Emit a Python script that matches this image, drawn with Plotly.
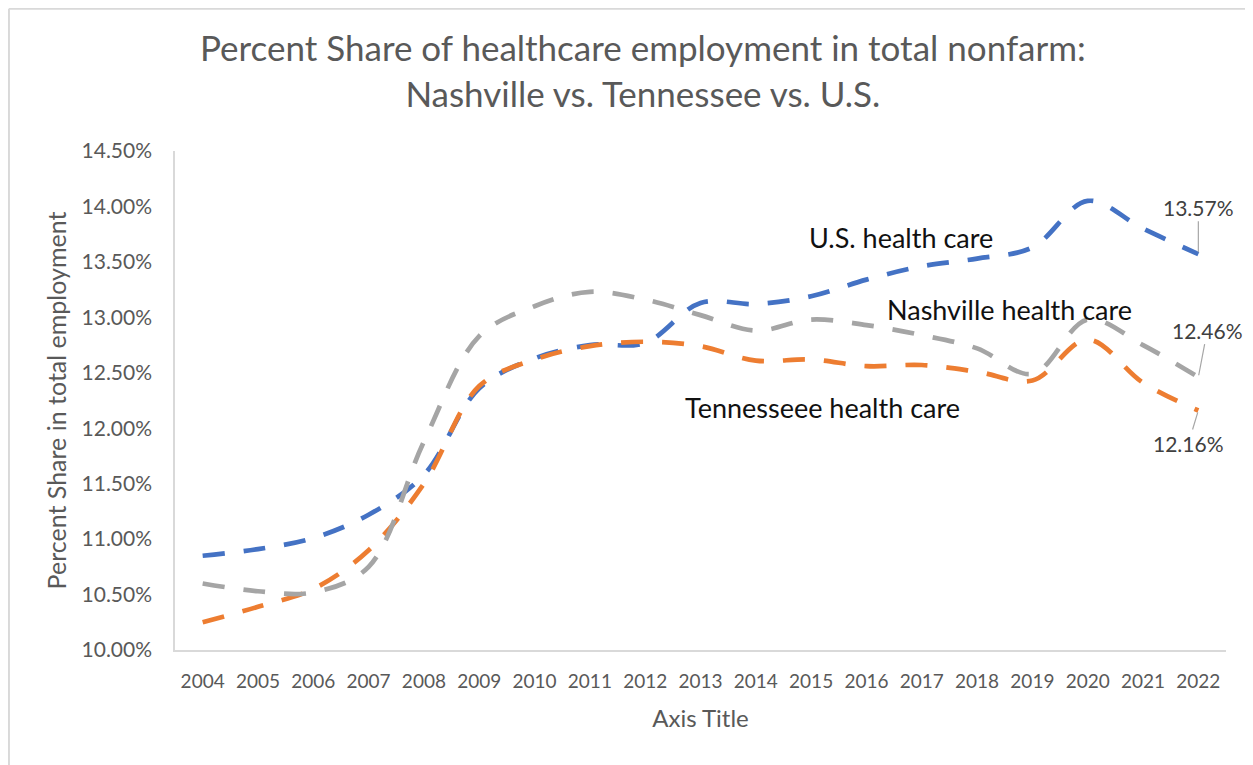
import plotly.graph_objects as go

# data (percent share in total nonfarm)
years = [str(y) for y in range(2004, 2023)]
us_health = [10.85, 10.91, 11.01, 11.22, 11.58, 12.36, 12.63, 12.75, 12.77, 13.13,
             13.12, 13.19, 13.34, 13.46, 13.53, 13.63, 14.05, 13.80, 13.57]
tn_health = [10.25, 10.39, 10.55, 10.90, 11.50, 12.38, 12.62, 12.74, 12.78, 12.74,
             12.61, 12.62, 12.56, 12.57, 12.51, 12.43, 12.80, 12.41, 12.16]
nash_health = [10.60, 10.53, 10.52, 10.75, 11.88, 12.83, 13.10, 13.23, 13.16, 13.02,
               12.88, 12.98, 12.93, 12.84, 12.72, 12.49, 12.98, 12.75, 12.46]
y_ticks = [10.0, 10.5, 11.0, 11.5, 12.0, 12.5, 13.0, 13.5, 14.0, 14.5]

FONT = 'Lato'
GREY_TXT = '#595959'
AXIS_CLR = '#D9D9D9'

series = [
    ('U.S. health care', us_health, '#4472C4'),
    ('Tennesseee health care', tn_health, '#ED7D31'),
    ('Nashville health care', nash_health, '#A5A5A5'),
]

fig = go.Figure()
for name, vals, color in series:
    fig.add_trace(go.Scatter(
        x=years, y=vals, name=name, mode='lines',
        line={'color': color, 'width': 4.7, 'dash': '22px,19px',
              'shape': 'spline', 'smoothing': 1.0},
        hoverinfo='skip'
    ))

annotations = [dict(
    text='Percent Share of healthcare employment in total nonfarm:<br>Nashville vs. Tennessee vs. U.S.',
    x=0.445, y=1.163, xref='paper', yref='paper', xanchor='center', yanchor='middle',
    showarrow=False, font={'family': FONT, 'size': 35, 'color': GREY_TXT}
)]

# series names written on the chart
labels = [
    ('U.S. health care', 0.691, 0.826),
    ('Nashville health care', 0.794, 0.683),
    ('Tennesseee health care', 0.616, 0.485),
]
for text, x, y in labels:
    annotations.append(dict(
        text=text, x=x, y=y, xref='paper', yref='paper', showarrow=False,
        xanchor='center', yanchor='middle',
        font={'family': FONT, 'size': 27, 'color': '#111111'}
    ))

# data labels on the last point with leader lines
last = len(years) - 1
for vals, ax, ay in [(us_health, 0, -47), (nash_health, 9, -47), (tn_health, -10, 33)]:
    annotations.append(dict(
        text=f'{vals[last]:.2f}%', x=last, y=vals[last],
        showarrow=True, arrowhead=0, arrowwidth=1.2, arrowcolor='#A6A6A6',
        ax=ax, ay=ay, standoff=2,
        font={'family': FONT, 'size': 21, 'color': '#404040'}
    ))

# page has an 8px body margin, so the figure is a bit smaller than the window
fig.update_layout(
    width=1245, height=757,
    margin=dict(zip(['t', 'l', 'b', 'r'], [143, 167, 115, 27])),
    paper_bgcolor='white', plot_bgcolor='white',
    showlegend=False,
    xaxis={
        'type': 'category', 'range': [-0.5, 18.5],
        'showgrid': False, 'showline': True, 'linecolor': AXIS_CLR, 'linewidth': 2,
        'ticks': '', 'ticklabelstandoff': 13,
        'tickfont': {'family': FONT, 'size': 19, 'color': GREY_TXT},
        'title': {'text': 'Axis Title', 'standoff': 19,
                  'font': {'family': FONT, 'size': 24, 'color': GREY_TXT}}
    },
    yaxis={
        'range': [10.0, 14.5], 'tickvals': y_ticks,
        'ticktext': [f'{v:.2f}%' for v in y_ticks],
        'showgrid': False, 'zeroline': False,
        'showline': True, 'linecolor': AXIS_CLR, 'linewidth': 1.5,
        'ticks': '', 'ticklabelstandoff': 17,
        'tickfont': {'family': FONT, 'size': 21, 'color': GREY_TXT},
        'title': {'text': 'Percent Share in total employment', 'standoff': 8,
                  'font': {'family': FONT, 'size': 25, 'color': GREY_TXT}}
    },
    annotations=annotations,
    shapes=[
        # chart area border (top and left edges visible)
        dict(type='line', xref='paper', yref='paper', x0=-0.158, x1=1.5, y0=1.285, y1=1.285,
             line={'color': AXIS_CLR, 'width': 2}),
        dict(type='line', xref='paper', yref='paper', x0=-0.158, x1=-0.158, y0=1.285, y1=-0.5,
             line={'color': AXIS_CLR, 'width': 2}),
    ]
)

fig.write_html("out.html")
